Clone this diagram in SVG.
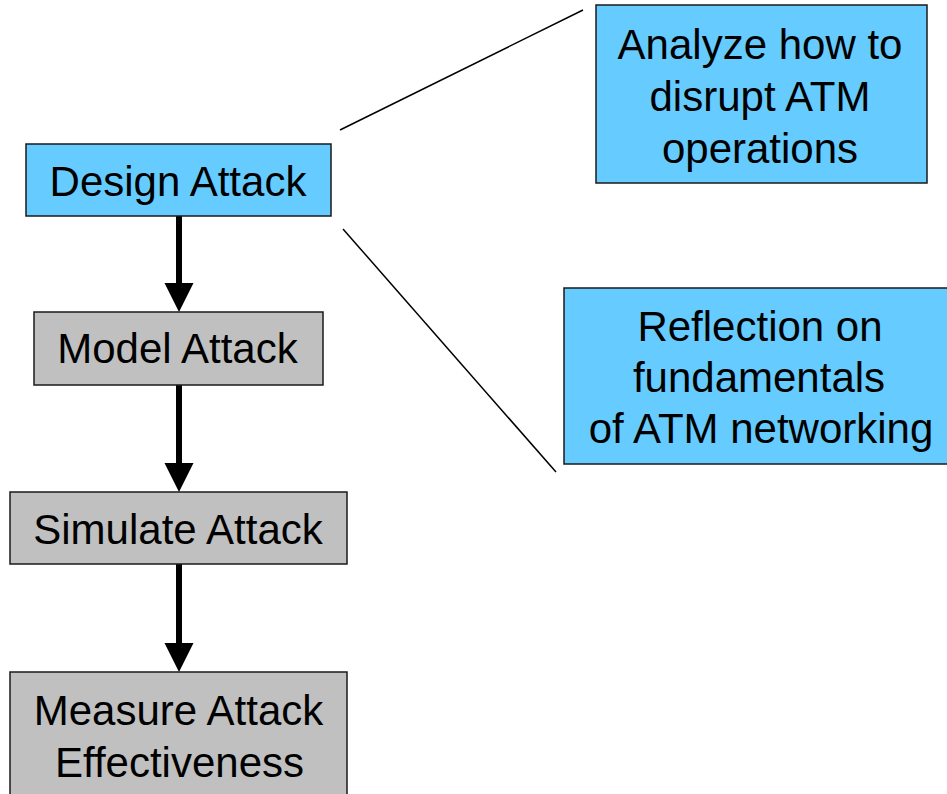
<svg xmlns="http://www.w3.org/2000/svg" width="947" height="794" viewBox="0 0 947 794">
  <defs>
    <style>
      .box { stroke: #1a1a1a; stroke-width: 1.5; }
      .blue { fill: #66ccff; }
      .grey { fill: #c0c0c0; }
      .label { font-family: "Liberation Sans", Arial, sans-serif; font-size: 42px; fill: #000; text-anchor: middle; }
      .flow { stroke: #000; stroke-width: 6; fill: none; }
      .head { fill: #000; }
      .callout { stroke: #000; stroke-width: 1.5; fill: none; }
    </style>
  </defs>
  <rect width="947" height="794" fill="#fff"/>

  <!-- connectors -->
  <g id="connectors">
    <line class="flow" x1="179" y1="216" x2="179" y2="286"/>
    <polygon class="head" points="164.5,283 193.5,283 179,312"/>
    <line class="flow" x1="179" y1="385" x2="179" y2="466"/>
    <polygon class="head" points="164.5,463 193.5,463 179,492"/>
    <line class="flow" x1="179" y1="564" x2="179" y2="646"/>
    <polygon class="head" points="164.5,643 193.5,643 179,672"/>
    <line class="callout" x1="340" y1="130" x2="583" y2="10"/>
    <line class="callout" x1="343" y1="229" x2="556" y2="472"/>
  </g>

  <g id="design-attack">
    <rect class="box blue" x="26" y="144" width="305" height="72"/>
    <text class="label" x="178" y="196">Design Attack</text>
  </g>

  <g id="model-attack">
    <rect class="box grey" x="34" y="312" width="289" height="73"/>
    <text class="label" x="177.5" y="363">Model Attack</text>
  </g>

  <g id="simulate-attack">
    <rect class="box grey" x="10" y="492" width="337" height="72"/>
    <text class="label" x="178" y="544">Simulate Attack</text>
  </g>

  <g id="measure-attack">
    <rect class="box grey" x="10" y="672" width="337" height="140"/>
    <text class="label" x="178.5" y="725">Measure Attack</text>
    <text class="label" x="179.5" y="777">Effectiveness</text>
  </g>

  <g id="analyze">
    <rect class="box blue" x="596" y="5" width="331" height="178"/>
    <text class="label" x="760" y="59">Analyze how to</text>
    <text class="label" x="760" y="111">disrupt ATM</text>
    <text class="label" x="760" y="163">operations</text>
  </g>

  <g id="reflection">
    <rect class="box blue" x="564" y="288" width="400" height="176"/>
    <text class="label" x="760" y="341">Reflection on</text>
    <text class="label" x="759" y="392">fundamentals</text>
    <text class="label" x="761" y="443">of ATM networking</text>
  </g>
</svg>
